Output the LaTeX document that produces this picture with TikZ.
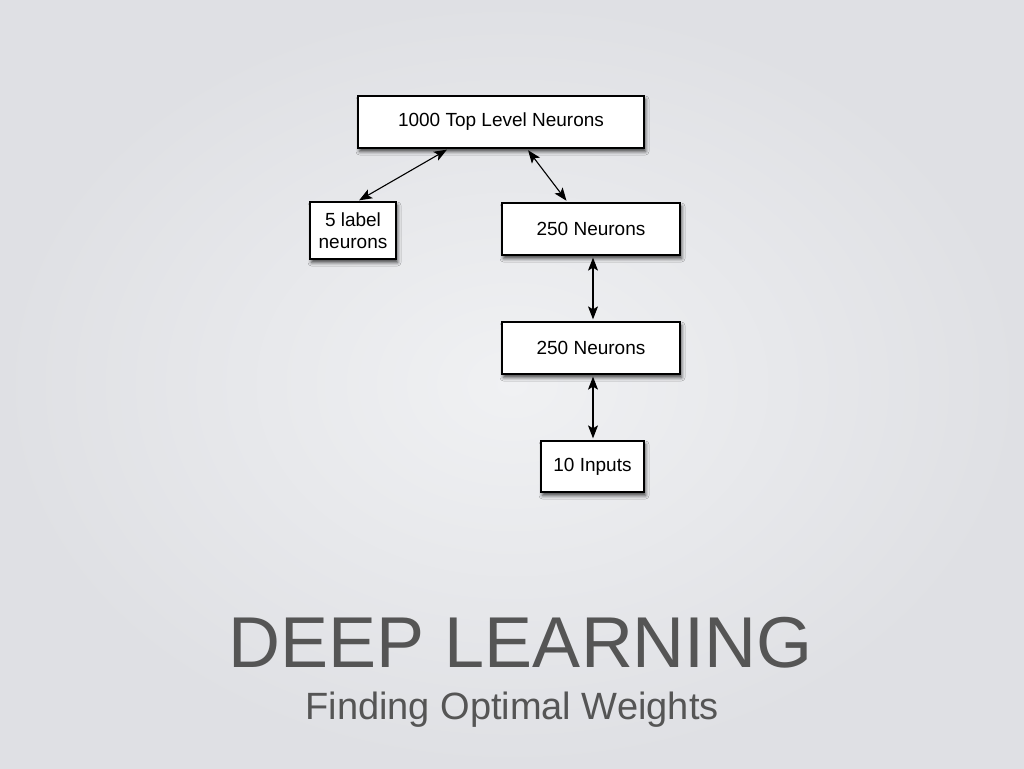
\documentclass[tikz,border=0pt]{standalone}
\usepackage{fontspec}
\setmainfont{Liberation Sans}
\usetikzlibrary{arrows.meta,shadows.blur,calc}
\definecolor{bgin}{HTML}{F0F1F3}
\definecolor{bgout}{HTML}{DFE0E4}
\definecolor{titlegray}{HTML}{555555}
\tikzset{
  box/.style={draw=black, line width=1.3pt, fill=white, inner sep=0pt, align=center,
    font=\fontsize{19}{22}\selectfont,
    blur shadow={shadow xshift=1.5pt, shadow yshift=-3.5pt, shadow blur radius=3.5pt, shadow opacity=70}},
  link/.style={line width=1.1pt, {Stealth[length=13pt,width=10pt,inset=3pt]}-{Stealth[length=13pt,width=10pt,inset=3pt]}, shorten <=2pt, shorten >=2pt}
}
\begin{document}
\begin{tikzpicture}[x=1pt,y=-1pt]
\useasboundingbox (0,0) rectangle (1024,768);
\shade[inner color=bgin, outer color=bgout] (0,0) rectangle (1024,768);
\node[box, minimum width=286pt, minimum height=52pt] (top) at (501,122) {1000 Top Level Neurons};
\node[box, minimum width=86pt, minimum height=57pt] (lab) at (353,230.5) {5 label\\neurons};
\node[box, minimum width=178pt, minimum height=52pt] (n1) at (591,229) {250 Neurons};
\node[box, minimum width=178pt, minimum height=52pt] (n2) at (591,348) {250 Neurons};
\node[box, minimum width=103pt, minimum height=51pt] (inp) at (592.5,466.5) {10 Inputs};
\draw[link] ($(top.south west)!0.318!(top.south east)$) -- ($(lab.north west)!0.55!(lab.north east)$);
\draw[link] ($(top.south west)!0.59!(top.south east)$) -- ($(n1.north west)!0.37!(n1.north east)$);
\draw[link] ($(n1.south)+(2,0)$) -- ($(n2.north)+(2,0)$);
\draw[link] ($(n2.south)+(2,0)$) -- ($(inp.north)+(0.5,0)$);
\node[text=titlegray, font=\fontsize{72}{76}\selectfont, inner sep=0pt] (title) at (521,643) {DEEP LEARNING};
\node[text=titlegray, font=\fontsize{38}{42}\selectfont, inner sep=0pt] (sub) at (512,710) {Finding Optimal Weights};
\end{tikzpicture}
\end{document}
